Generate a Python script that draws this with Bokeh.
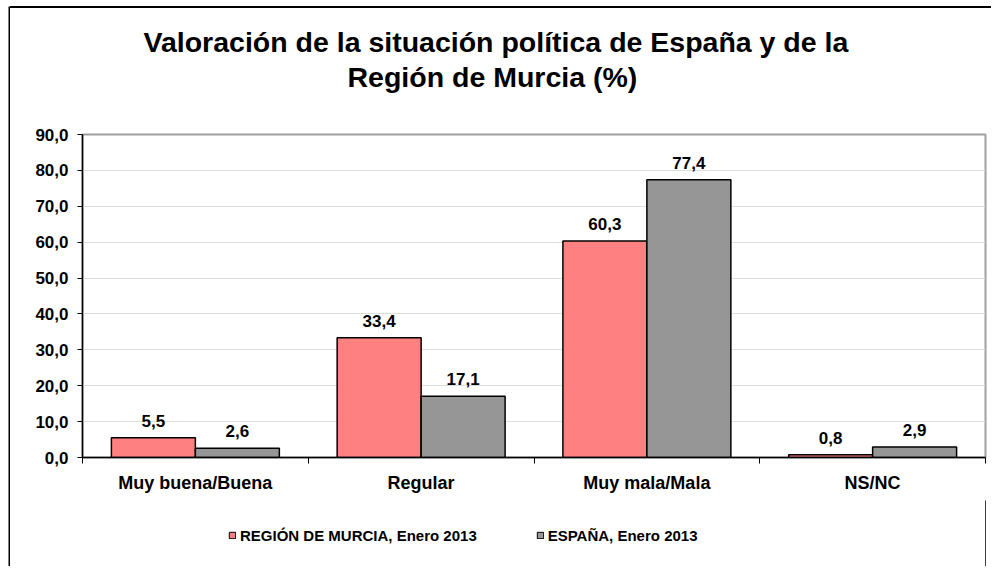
from bokeh.plotting import figure
from bokeh.layouts import column, row
from bokeh.models import (FixedTicker, Title, Legend, LegendItem, ColumnDataSource,
                          Range1d, Spacer, Div)
from bokeh.transform import dodge
from bokeh.embed import file_html
from bokeh.resources import INLINE

# ---- data ----
categories = ["Muy buena/Buena", "Regular", "Muy mala/Mala", "NS/NC"]
murcia = [5.5, 33.4, 60.3, 0.8]
espana = [2.6, 17.1, 77.4, 2.9]
series_names = ["REGIÓN DE MURCIA, Enero 2013", "ESPAÑA, Enero 2013"]
y_ticks = [0, 10, 20, 30, 40, 50, 60, 70, 80, 90]
y_tick_labels = ["0,0", "10,0", "20,0", "30,0", "40,0", "50,0", "60,0", "70,0", "80,0", "90,0"]
title_lines = ["Valoración de la situación política de España y de la",
               "Región de Murcia (%)"]

FONT = "Liberation Sans"
RED = "#FF8080"
GREY = "#969696"

pos = [i + 0.5 for i in range(len(categories))]
bounds = [float(i) for i in range(len(categories) + 1)]

def fmt(v):
    return f"{v:.1f}".replace(".", ",")

src = ColumnDataSource(dict(
    pos=pos, cat=categories, murcia=murcia, espana=espana,
    murcia_lbl=[fmt(v) for v in murcia], espana_lbl=[fmt(v) for v in espana],
))

W = 980
ML, MR = 72, 5
TH, PH, LH = 112, 380, 66

def blank(width, height, **kw):
    f = figure(width=width, height=height, output_backend="svg", toolbar_location=None,
               x_range=Range1d(0, 1), y_range=Range1d(0, 1),
               x_axis_type=None, y_axis_type=None, title=None, **kw)
    f.outline_line_color = None
    f.grid.visible = False
    return f

# ---- title strip ----
tf = blank(W, TH, min_border_left=ML, min_border_right=MR, min_border_top=85,
           min_border_bottom=0)
tf.background_fill_color = "white"
tf.border_fill_color = "white"
t2 = Title(text=title_lines[1], align="left", offset=265, text_font=FONT,
           text_font_size="28.5px", text_font_style="bold", text_color="black", standoff=2)
t1 = Title(text=title_lines[0], align="left", offset=61, text_font=FONT,
           text_font_size="28.5px", text_font_style="bold", text_color="black", standoff=0)
tf.add_layout(t2, "above")
tf.add_layout(t1, "above")

# ---- main chart ----
p = figure(width=W, height=PH, output_backend="svg", toolbar_location=None,
           x_range=Range1d(0, len(categories)), y_range=Range1d(0, 90),
           min_border_left=ML, min_border_right=MR, min_border_top=14,
           min_border_bottom=43, title=None)
p.outline_line_color = "#a0a0a0"
p.outline_line_width = 2
p.background_fill_color = "white"
p.border_fill_color = "white"

w = 0.372
p.vbar(x=dodge("pos", -w / 2, range=p.x_range), top="murcia", width=w, source=src,
       fill_color=RED, line_color="black", line_width=1.5)
p.vbar(x=dodge("pos", w / 2, range=p.x_range), top="espana", width=w, source=src,
       fill_color=GREY, line_color="black", line_width=1.5)

for col, off in (("murcia_lbl", -w / 2), ("espana_lbl", w / 2)):
    p.text(x=dodge("pos", off, range=p.x_range), y=col.replace("_lbl", ""), text=col,
           source=src, text_align="center", text_baseline="alphabetic", y_offset=-17,
           text_font_size="17px", text_font_style="bold", text_color="black",
           text_font={"value": FONT})

p.yaxis.ticker = FixedTicker(ticks=y_ticks)
p.yaxis.major_label_overrides = {t: l for t, l in zip(y_ticks, y_tick_labels)}
p.yaxis.axis_line_color = "black"
p.yaxis.axis_line_width = 1.5
p.yaxis.major_tick_out = 5
p.yaxis.major_tick_in = 0
p.yaxis.minor_tick_line_color = None
p.yaxis.major_tick_line_color = "black"
p.yaxis.major_label_standoff = 9
p.yaxis.major_label_text_font = FONT
p.yaxis.major_label_text_font_size = "17px"
p.yaxis.major_label_text_font_style = "bold"
p.yaxis.major_label_text_color = "black"

# x axis: labels at category centres, ticks at category boundaries
p.xaxis.ticker = FixedTicker(ticks=pos, minor_ticks=bounds)
p.xaxis.major_label_overrides = {t: c for t, c in zip(pos, categories)}
p.xaxis.axis_line_color = "black"
p.xaxis.axis_line_width = 1.5
p.xaxis.major_tick_line_color = None
p.xaxis.major_tick_out = 0
p.xaxis.major_tick_in = 0
p.xaxis.minor_tick_line_color = "black"
p.xaxis.minor_tick_out = 6
p.xaxis.minor_tick_in = 0
p.xaxis.major_label_standoff = 9
p.xaxis.major_label_text_font = FONT
p.xaxis.major_label_text_font_size = "18px"
p.xaxis.major_label_text_font_style = "bold"
p.xaxis.major_label_text_color = "black"

p.xgrid.grid_line_color = None
p.ygrid.ticker = FixedTicker(ticks=y_ticks)
p.ygrid.grid_line_color = "#dddddd"
p.ygrid.grid_line_width = 1

# ---- legend strip ----
q = blank(W, LH, min_border_left=ML, min_border_right=MR, min_border_top=0,
          min_border_bottom=0)
q.background_fill_color = "white"
q.border_fill_color = "white"
# legend proxies: one point each, placed outside the strip's range
k1 = q.vbar(x=[5], top=[1], width=0.1, fill_color=RED, line_color="black", line_width=1)
k2 = q.vbar(x=[5], top=[1], width=0.1, fill_color=GREY, line_color="black", line_width=1)
legend = Legend(items=[LegendItem(label=series_names[0], renderers=[k1]),
                       LegendItem(label=series_names[1], renderers=[k2])],
                location=(146, LH - 26 - 18), orientation="horizontal",
                glyph_width=8, glyph_height=8, label_standoff=4, spacing=59,
                label_height=18, padding=0, margin=0,
                border_line_color=None, background_fill_alpha=0,
                label_text_font=FONT, label_text_font_size="15px",
                label_text_font_style="bold", label_text_color="black")
q.add_layout(legend, "center")

# ---- outer chart box (only its left and top edges are inside the window) ----
top_bar = Div(text="", width=W + 1, height=2,
              styles={"background-color": "black", "margin": "0", "padding": "0"})
left_bar = blank(2, 2 + TH + PH + LH, min_border=0)
left_bar.background_fill_color = "black"
left_bar.border_fill_color = "black"

page = row(Spacer(width=8),
           column(Spacer(height=6),
                  row(left_bar, column(top_bar, tf, p, q, spacing=0), spacing=0),
                  spacing=0),
           spacing=0)

open("out.html", "w").write(file_html(page, INLINE))
